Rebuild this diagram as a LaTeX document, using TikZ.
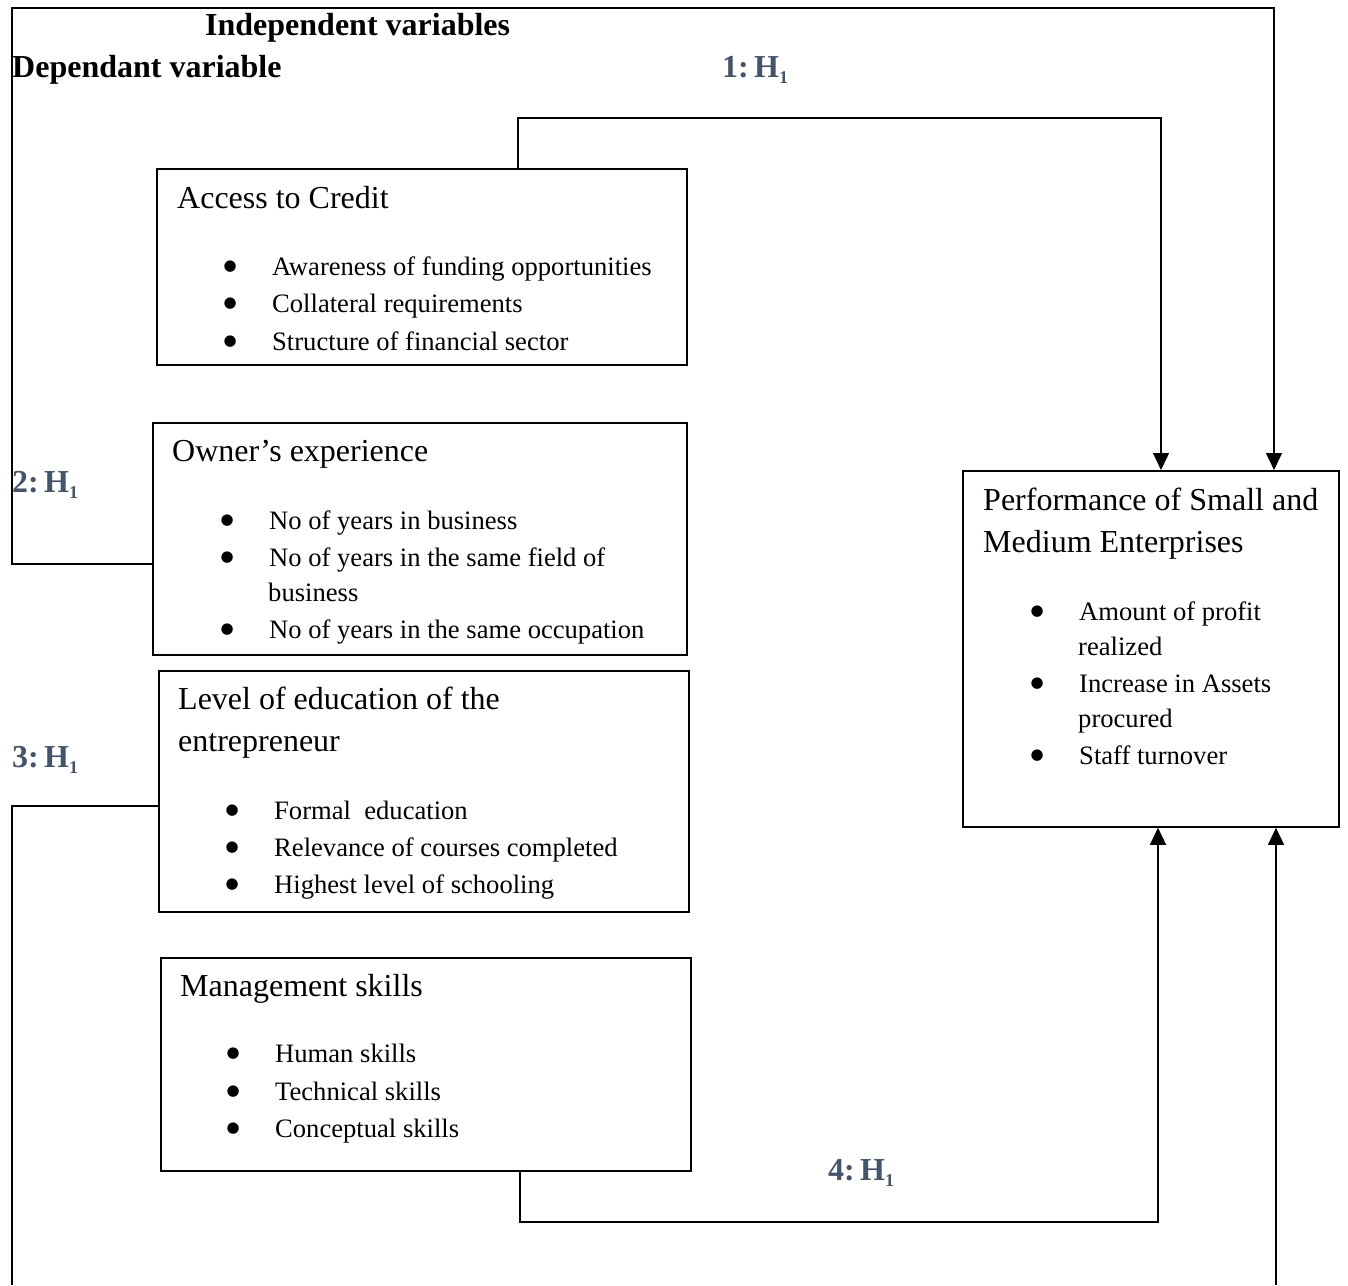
\documentclass[tikz,border=0pt]{standalone}
\usepackage{fontspec}
\setmainfont{Liberation Serif}
\newfontfamily\bulfont{DejaVu Sans}
\usepackage{tikz}
\usetikzlibrary{arrows.meta,positioning,calc}

\definecolor{hypblue}{HTML}{44546A}

\tikzset{
  varbox/.style={draw, line width=1.8pt, anchor=north west, inner sep=0pt},
  link/.style={line width=1.3pt},
  arrowlink/.style={link, -{Triangle[width=16pt,length=17pt]}},
  boxtitle/.style={anchor=base west, inner sep=0pt, font=\fontsize{32}{42}\selectfont},
  item/.style={anchor=base west, inner sep=0pt, font=\fontsize{26.6}{37}\selectfont},
  heading/.style={anchor=base west, inner sep=0pt, font=\fontsize{32}{38}\selectfont\bfseries},
  hyp/.style={heading, text=hypblue}
}
\newcommand{\bul}{\makebox[47pt][l]{\hspace{-1.5pt}\raisebox{5pt}{\bulfont\fontsize{15}{15}\selectfont ●}}}
\newcommand{\hsub}{H\smash{\raisebox{-6pt}{\fontsize{18}{20}\selectfont 1}}}

\begin{document}
\begin{tikzpicture}[x=1pt,y=-1pt]
  \useasboundingbox (0,0) rectangle (1348,1285);

  % headings and hypotheses
  \node[heading] (indep) at (205,35) {Independent variables};
  \node[heading] (dep) at (12,77) {Dependant variable};
  \node[hyp] (h1) at (722,77) {1:\,\hsub};
  \node[hyp] (h2) at (12,492) {2:\,\hsub};
  \node[hyp] (h3) at (12,767) {3:\,\hsub};
  \node[hyp] (h4) at (828,1180) {4:\,\hsub};

  % boxes
  \node[varbox, minimum width=530pt, minimum height=196pt] (credit) at (156,168) {};
  \node[varbox, minimum width=534pt, minimum height=232pt] (owner) at (152,422) {};
  \node[varbox, minimum width=530pt, minimum height=241pt] (level) at (158,670) {};
  \node[varbox, minimum width=530pt, minimum height=213pt] (mgmt) at (160,957) {};
  \node[varbox, minimum width=376pt, minimum height=356pt] (perf) at (962,470) {};

  % access to credit
  \node[boxtitle] (credit-t) at (177,208) {Access to Credit};
  \node[item] (credit-1) at (225,275) {\bul Awareness of funding opportunities};
  \node[item] (credit-2) at (225,312) {\bul Collateral requirements};
  \node[item] (credit-3) at (225,350) {\bul Structure of financial sector};

  % owner's experience
  \node[boxtitle] (owner-t) at (172,461) {Owner’s experience};
  \node[item] (owner-1) at (222,529) {\bul No of years in business};
  \node[item] (owner-2) at (222,566) {\bul No of years in the same field of};
  \node[item] (owner-2b) at (268,601) {business};
  \node[item] (owner-3) at (222,638) {\bul No of years in the same occupation};

  % level of education
  \node[boxtitle] (level-t) at (178,709) {Level of education of the};
  \node[boxtitle] (level-tb) at (178,751) {entrepreneur};
  \node[item] (level-1) at (227,819) {\bul Formal\ \ education};
  \node[item] (level-2) at (227,856) {\bul Relevance of courses completed};
  \node[item] (level-3) at (227,893) {\bul Highest level of schooling};

  % management skills
  \node[boxtitle] (mgmt-t) at (180,996) {Management skills};
  \node[item] (mgmt-1) at (228,1062) {\bul Human skills};
  \node[item] (mgmt-2) at (228,1100) {\bul Technical skills};
  \node[item] (mgmt-3) at (228,1137) {\bul Conceptual skills};

  % performance of SMEs
  \node[boxtitle] (perf-t) at (983,510) {Performance of Small and};
  \node[boxtitle] (perf-tb) at (983,552) {Medium Enterprises};
  \node[item] (perf-1) at (1032,620) {\bul Amount of profit};
  \node[item] (perf-1b) at (1078,655) {realized};
  \node[item] (perf-2) at (1032,692) {\bul Increase in Assets};
  \node[item] (perf-2b) at (1078,727) {procured};
  \node[item] (perf-3) at (1032,764) {\bul Staff turnover};

  % connectors
  \coordinate (c1) at (518,118);
  \coordinate (c1r) at (1161,118);
  \draw[arrowlink] (c1 |- credit.north) -- (c1) -- (c1r) -- (c1r |- perf.north);

  \coordinate (o1) at (12,564);
  \coordinate (o2) at (12,8);
  \coordinate (o3) at (1274,8);
  \draw[arrowlink] (o1 -| owner.west) -- (o1) -- (o2) -- (o3) -- (o3 |- perf.north);

  \coordinate (l1) at (12,806);
  \coordinate (l2) at (12,1285);
  \draw[link] (l1 -| level.west) -- (l1) -- (l2);

  \coordinate (m1) at (520,1222);
  \coordinate (m2) at (1158,1222);
  \draw[arrowlink] (m1 |- mgmt.south) -- (m1) -- (m2) -- (m2 |- perf.south);

  \coordinate (r1) at (1276,1285);
  \draw[arrowlink] (r1) -- (r1 |- perf.south);
\end{tikzpicture}
\end{document}
